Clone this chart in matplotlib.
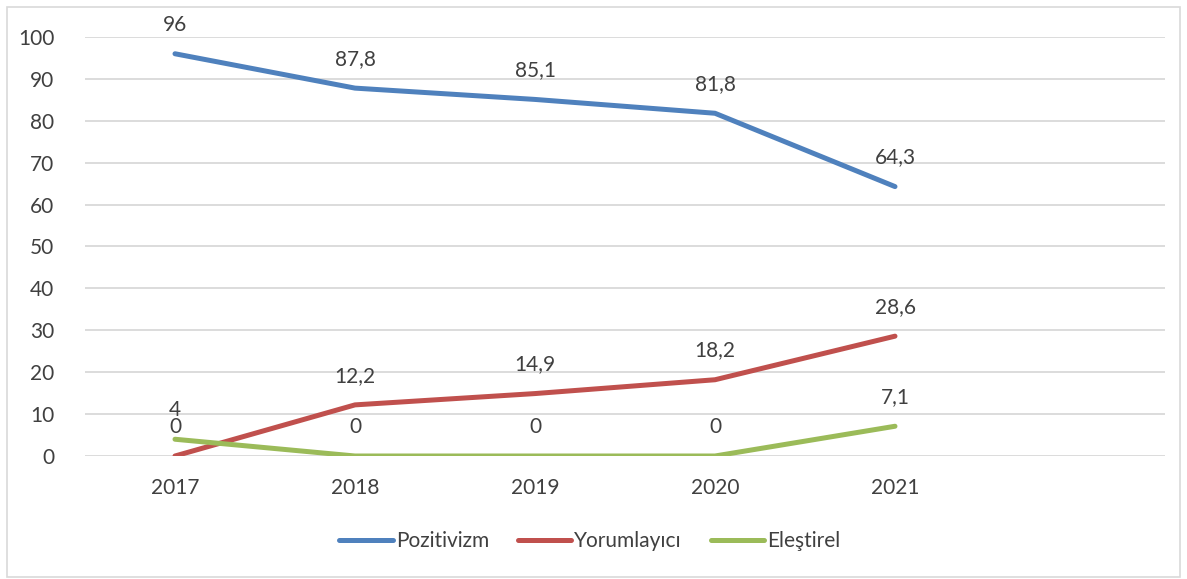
import matplotlib
matplotlib.use("Agg")
import matplotlib.pyplot as plt
from matplotlib.patches import Rectangle

# Data
years = ["2017", "2018", "2019", "2020", "2021"]
pozitivizm = [96, 87.8, 85.1, 81.8, 64.3]
yorumlayici = [0, 12.2, 14.9, 18.2, 28.6]
elestirel = [4, 0, 0, 0, 7.1]

series = [
    ("Pozitivizm", pozitivizm, "#4f81bd"),
    ("Yorumlayıcı", yorumlayici, "#c0504d"),
    ("Eleştirel", elestirel, "#9bbb59"),
]

plt.rcParams["font.family"] = ["Lato", "DejaVu Sans"]
text_color = "#404040"

fig = plt.figure(figsize=(11.87, 5.79), dpi=100)
ax = fig.add_axes([85 / 1187, 1 - 456 / 579, 1080 / 1187, 419 / 579])

x = list(range(len(years)))
for name, vals, col in series:
    ax.plot(x, vals, color=col, linewidth=3.6, solid_capstyle="round", label=name)
    for xi, v in zip(x, vals):
        lab = ("%g" % v).replace(".", ",")
        ax.annotate(lab, (xi, v), xytext=(0, 21), textcoords="offset points",
                    ha="center", va="center", fontsize=15, color=text_color)

ax.set_xlim(-0.5, 5.5)
ax.set_ylim(0, 100)
ax.set_yticks(range(0, 101, 10))
ax.set_xticks(x)
ax.set_xticklabels(years)
ax.tick_params(length=0, labelsize=15, labelcolor=text_color)
ax.tick_params(axis="x", pad=16)
ax.tick_params(axis="y", pad=22)
ax.grid(axis="y", color="#d9d9d9", linewidth=1.3)
ax.set_axisbelow(True)
for s in ax.spines.values():
    s.set_visible(False)

leg = fig.legend(loc="center", bbox_to_anchor=(590 / 1187, 1 - 541 / 579), ncol=3,
                 frameon=False, fontsize=15, handlelength=2.55, handletextpad=0.15,
                 columnspacing=1.4)
for t in leg.get_texts():
    t.set_color(text_color)

fig.patches.append(Rectangle((7 / 1187, 2 / 579), 1173 / 1187, 570 / 579,
                             transform=fig.transFigure, fill=False,
                             edgecolor="#d9d9d9", linewidth=1.2))

fig.savefig("out.png", dpi=100)
